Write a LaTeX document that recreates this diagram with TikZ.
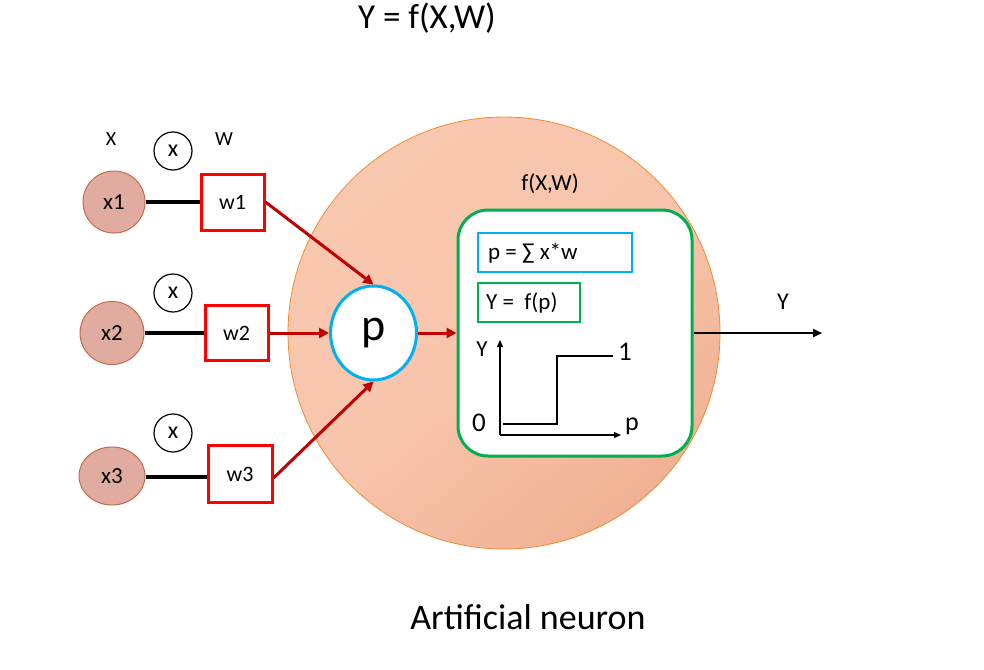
\documentclass[tikz,border=0pt]{standalone}
\usepackage{fontspec}
\setmainfont{Carlito}
\usetikzlibrary{arrows.meta,shapes.geometric}
\definecolor{salmonA}{RGB}{249,200,176}
\definecolor{salmonB}{RGB}{240,178,148}
\definecolor{neuronborder}{RGB}{238,140,50}
\definecolor{inpfill}{RGB}{225,172,160}
\definecolor{inpborder}{RGB}{200,105,75}
\definecolor{offgreen}{RGB}{0,176,80}
\definecolor{offblue}{RGB}{0,176,240}
\definecolor{darkred}{RGB}{192,0,0}
\newcommand{\fs}[1]{\fontsize{#1}{#1}\selectfont}
\tikzset{
  inp/.style={ellipse, draw=inpborder, line width=1pt, fill=inpfill, inner sep=0pt, font=\fs{23}},
  wbox/.style={rectangle, draw=red, line width=3pt, fill=white, inner sep=0pt, font=\fs{22}},
  mult/.style={circle, draw=black, line width=1.2pt, minimum size=38pt, inner sep=0pt, font=\fs{24}},
  blackline/.style={line width=4pt, black},
  redarrow/.style={line width=3pt, darkred, -{Triangle[length=10pt,width=10pt]}},
  lbl/.style={inner sep=0pt, font=\fs{20}},
}
\begin{document}
\begin{tikzpicture}[x=1pt,y=-1pt]
\useasboundingbox (0,0) rectangle (984,669);
% big neuron circle
\node[circle, minimum size=432pt, inner sep=0pt, draw=neuronborder, line width=0.8pt,
      top color=salmonA, bottom color=salmonB, middle color=salmonA!85!salmonB, shading angle=40] (neuron) at (504,333) {};
% title and caption
\node[inner sep=0pt, font=\fs{35}] (title) at (427,18) {Y = f(X,W)};
\node[inner sep=0pt, font=\fs{36}] (caption) at (528,617) {Artificial neuron};
% labels X, W
\node[lbl] (lx) at (111,139) {X};
\node[lbl] (lw) at (224,139) {W};
% multiplication circles
\node[mult] (m1) at (173,151) {\raisebox{1pt}{x}};
\node[mult] (m2) at (173,293) {\raisebox{1pt}{x}};
\node[mult] (m3) at (173,433) {\raisebox{1pt}{x}};
% inputs
\node[inp, minimum width=62pt, minimum height=62pt] (x1) at (114,202) {x1};
\node[inp, minimum width=64pt, minimum height=63pt] (x2) at (112,333) {x2};
\node[inp, minimum width=66pt, minimum height=58pt] (x3) at (112,476) {x3};
% weights
\node[wbox, minimum width=63pt, minimum height=56pt] (w1) at (232.5,202) {w1};
\node[wbox, minimum width=63pt, minimum height=55pt] (w2) at (236.5,333) {w2};
\node[wbox, minimum width=64pt, minimum height=57pt] (w3) at (240,474) {w3};
\draw[blackline] (x1.east) -- (x1.east -| w1.west);
\draw[blackline] (x2.east) -- (x2.east -| w2.west);
\draw[blackline] ([yshift=-1pt]x3.east) -- ([yshift=-1pt]x3.east -| w3.west);
% p node
\node[ellipse, draw=offblue, line width=3pt, fill=white, minimum width=86pt, minimum height=94pt,
      inner sep=0pt, font=\fs{46}] (p) at (373.5,333) {p};
\draw[redarrow] (w1.east) -- (p.north);
\draw[redarrow] (w2.east) -- (p.west);
\draw[redarrow] ([yshift=-4pt]w3.east) -- (p.south);
% function box
\node[lbl, font=\fs{23}] (flabel) at (550,184) {f(X,W)};
\node[rectangle, rounded corners=30pt, draw=offgreen, line width=3pt, fill=white,
      minimum width=234pt, minimum height=246pt, inner sep=0pt] (fbox) at (575,333) {};
\draw[redarrow] (p.east) -- (fbox.west);
\node[rectangle, draw=offblue, line width=2pt, minimum width=154pt, minimum height=39pt, inner sep=0pt] (sumbox) at (555,252.5) {};
\node[anchor=west, inner sep=0pt, font=\fs{23}] (sumtxt) at (488,253) {p = ∑ x*w};
\node[rectangle, draw=offgreen, line width=2pt, minimum width=102pt, minimum height=39pt, inner sep=0pt] (actbox) at (529,302.5) {};
\node[anchor=west, inner sep=0pt, font=\fs{23}] (acttxt) at (486,303) {Y =\ \ f(p)};
% graph
\coordinate (org) at (500,435);
\coordinate (ytop) at (500,340);
\coordinate (xend) at (621,435);
\draw[line width=1.3pt, -{Triangle[length=7pt,width=6pt]}] (org) -- (ytop);
\draw[line width=1.3pt, -{Triangle[length=7pt,width=6pt]}] (org) -- (xend);
\coordinate (s0) at (503,424);
\coordinate (s1) at (557,424);
\coordinate (s2) at (557,356);
\coordinate (s3) at (613,356);
\draw[line width=1.3pt] (s0) -- (s1) -- (s2) -- (s3);
\node[lbl, font=\fs{23}] (gy) at (482,349) {Y};
\node[lbl, font=\fs{27}] (g1) at (625,352) {1};
\node[lbl, font=\fs{27}] (g0) at (479,423) {0};
\node[lbl, font=\fs{26}] (gp) at (632,426) {p};
% output
\coordinate (out) at (822,333);
\draw[line width=2.5pt, -{Triangle[length=9pt,width=8pt]}] (fbox.east) -- (out);
\node[lbl, font=\fs{24}] (ylab) at (783,302) {Y};
\end{tikzpicture}
\end{document}
